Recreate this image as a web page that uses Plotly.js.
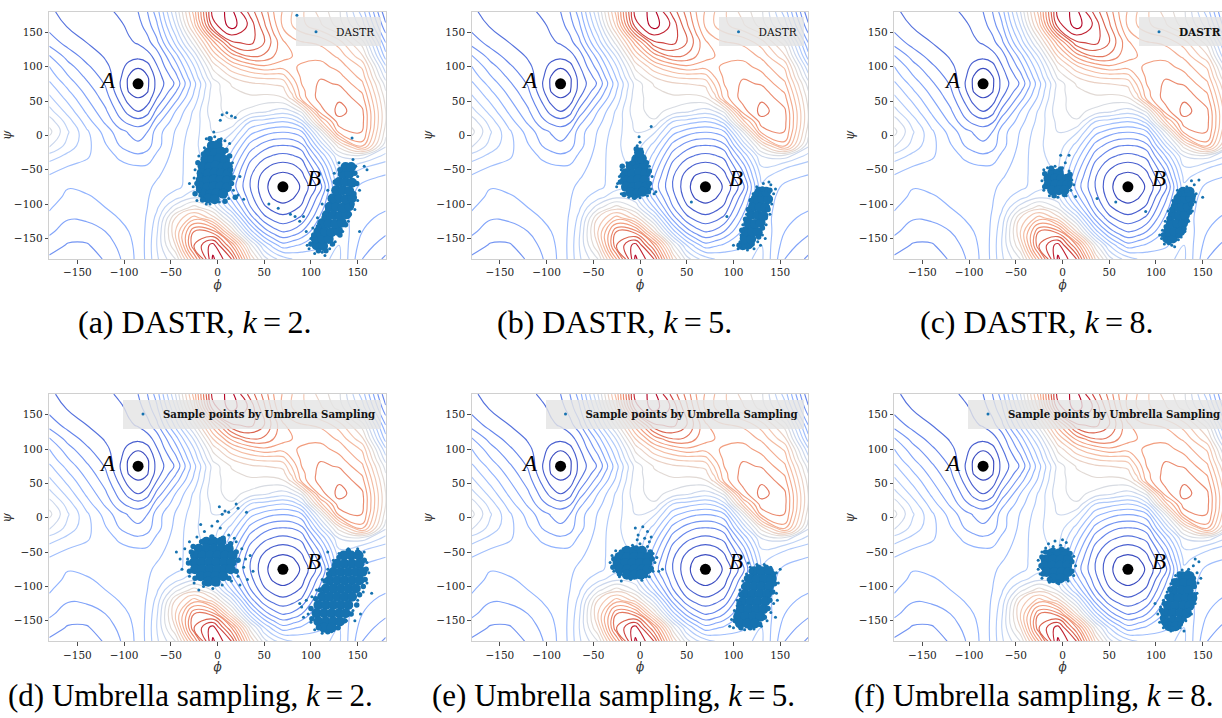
<!DOCTYPE html>
<html><head><meta charset="utf-8">
<script src="https://cdn.plot.ly/plotly-3.0.1.min.js"></script>
<style>html,body{margin:0;padding:0;overflow:hidden;background:#fff;width:1222px;height:718px}#plot{width:1240px;height:718px}</style>
</head><body><div id="plot"></div><script>
// ---- potential energy surface (phi, psi grid, estimated contour levels) ----
const phi = [-180,-160,-140,-120,-105,-95,-85,-75,-65,-45,-25,-5,15,35,50,60,70,80,90,110,130,155,180];
const psi = [-180,-160,-140,-120,-105,-90,-75,-60,-45,-30,-15,5,20,35,55,65,75,85,100,115,135,160,180];
const energy = [
 [4.8,4.4,4.5,5.1,5.9,6.6,7.3,8.3,9.8,12,18,24.2,22,15,11.5,10.3,9.5,9,8.8,8.8,9.2,6.0,4.8],
 [5.5,4.9,4.9,5.5,6.2,6.7,7.4,8.3,10.0,14,21,23.5,19,12.5,9,7.5,6.4,6.8,7.2,7.8,9.0,6.5,5.5],
 [6.2,5.5,5.5,6.0,6.6,7.0,7.5,8.2,9.8,15,20,19.5,14,8.5,5.6,4.5,3.9,4.2,5.0,7.2,8.8,7.0,6.2],
 [6.8,6.1,6.2,6.6,7.05,7.3,7.55,8.1,9.3,14,16.5,14.5,10.5,5.5,3.3,2.6,2.3,2.6,3.2,6.2,8.6,7.2,6.8],
 [7.1,6.5,6.6,7.0,7.3,7.45,7.55,8.0,8.8,11.6,13.5,11.8,8,4.1,2.2,1.6,1.3,1.6,2.2,5.4,8.6,7.4,7.1],
 [7.4,6.8,6.9,7.2,7.45,7.5,7.55,7.9,8.5,9.6,10.8,10.3,6.5,3.4,1.5,0.85,0.6,0.85,1.5,4.6,8.6,7.6,7.4],
 [7.6,7.05,7.2,7.45,7.5,7.5,7.5,7.8,8.2,8.7,9.6,9.9,5.6,3.0,1.25,0.6,0.3,0.6,1.1,3.6,8.8,7.8,7.6],
 [7.9,7.5,7.5,7.5,7.45,7.4,7.35,7.5,7.9,8.6,9.6,10.0,6.1,3.1,1.5,0.85,0.6,0.85,1.6,4.5,9.3,8.3,7.9],
 [8.5,8.0,7.8,7.6,7.3,7.15,7.05,7.1,7.6,8.5,9.7,10.2,6.8,3.6,2.3,1.75,1.55,1.75,2.35,5.5,10,9.2,8.5],
 [9.6,8.7,8.1,7.5,6.8,6.4,6.2,6.4,7.2,8.4,9.8,10.4,7.6,4.5,3.3,2.9,2.7,2.9,3.3,7.0,11,11.5,9.6],
 [11.2,9.6,8.3,7.1,6.0,5.5,5.2,5.6,6.6,8.3,9.8,10.7,8.6,5.6,4.5,4.05,3.95,4.05,4.6,9.0,13.5,17.5,11.2],
 [12.3,10.1,8.2,6.6,5.4,4.9,4.6,5.0,6.5,8.1,9.6,11.0,10.2,7.4,6.5,6.15,6.05,6.2,6.8,12,18.3,19.1,12.5],
 [11.6,9.5,7.5,5.8,4.3,3.7,3.4,3.8,5.6,7.6,9.4,11.3,11.9,9.0,8.5,8.2,8.0,8.3,9.5,15.5,19.6,19.3,13],
 [10.4,8.6,6.8,5.2,3.6,2.6,2.0,2.6,4.3,7.0,9.2,11.7,12.3,11.7,11.2,10.8,10.5,11,12.3,18.5,20.4,19.2,13],
 [9.2,7.6,6.0,4.5,2.7,1.4,0.95,1.3,2.9,5.5,8.3,11.6,12.5,12.8,12.6,12.7,13,14.5,17.5,19.5,19.8,18.3,12.5],
 [8.7,7.1,5.6,4.2,2.3,0.9,0.48,0.9,2.4,4.8,8.0,11.5,12.8,13.3,13.5,13.5,13.6,15.5,17.7,19.4,19.4,17.8,12],
 [8.2,6.6,5.2,3.9,2.1,0.8,0.3,0.8,2.3,4.15,7.7,11.4,13.1,13.8,14,14.1,14.3,16.2,18.0,19.2,18.9,17.2,11.5],
 [7.6,6.1,4.8,3.6,2.3,0.9,0.48,0.9,2.4,4.6,8.2,12.2,14.0,15,15.3,15.3,15.5,17,18.2,18.9,18.4,16.6,10.5],
 [7.0,5.4,4.2,3.2,2.5,1.6,1.1,1.6,2.9,5.5,9.0,13.3,15.8,17.2,17.8,17.6,17.4,17.8,18.2,18.4,17.6,15.8,9.2],
 [6.1,4.6,3.6,2.9,2.6,2.45,2.3,2.6,3.4,6.5,10.2,15,18.3,20,19.8,19,18.4,18,17.6,17.7,16.8,14.2,7.5],
 [4.6,3.6,3.0,2.7,2.65,2.85,3.1,3.6,4.7,8.3,12.5,17.5,21.8,22.3,21,19.6,18.2,17.4,17.1,16.8,15.5,12.5,6.0],
 [3.6,2.9,2.6,2.6,2.8,3.2,3.6,4.5,5.8,10,15.5,22.5,24.5,22.7,20.2,18.5,16.8,16,15.3,14.2,12.6,9.5,4.2],
 [3.2,2.6,2.5,2.7,3.2,3.6,4.0,5.0,6.5,11,16.5,23.5,24.3,21.6,19.6,18,16.9,16,15.2,13.6,12.2,8.5,3.2]
];
const tickVals = [-150,-100,-50,0,50,100,150];
const tickText = ['\u2212150','\u2212100','\u221250','0','50','100','150'];
const stateA = [-85, 75];
const stateB = [70, -75];
const captions = ['(a) DASTR, <i>k</i>\u2009=\u20092.','(b) DASTR, <i>k</i>\u2009=\u20095.','(c) DASTR, <i>k</i>\u2009=\u20098.',
  '(d) Umbrella sampling, <i>k</i>\u2009=\u20092.','(e) Umbrella sampling, <i>k</i>\u2009=\u20095.','(f) Umbrella sampling, <i>k</i>\u2009=\u20098.'];
const legendNames = ['DASTR','DASTR','<b>DASTR</b>','<b>Sample points by Umbrella Sampling</b>',
  '<b>Sample points by Umbrella Sampling</b>','<b>Sample points by Umbrella Sampling</b>'];

// ---- sample clouds (phi, psi): dense cores, cloud edges, sparse outliers ----
const aCore1 = [[-6,-15],[0,-14],[-10,-25],[-3,-26],[4,-24],[-13,-35],[-6,-36],[1,-34],[8,-36],[-16,-45],[-9,-46],[-2,-44],[5,-46],[11,-45],[-17,-55],[-10,-56],[-3,-54],[4,-55],[11,-56],[-18,-65],[-11,-66],[-4,-64],[3,-65],[10,-66],[-18,-75],[-11,-76],[-4,-74],[3,-75],[10,-76],[-15,-85],[-8,-86],[-1,-84],[6,-85],[-10,-92],[-3,-93]];
const aEdge1 = [[-21,-40],[-22,-70],[-20,-80],[14,-50],[15,-70],[13,-30],[-8,-5],[2,-8],[-16,-94],[8,-96],[-24,-85],[19,-90],[-19,-58],[16,-62],[9,-22],[-15,-27]];
const aSpray1 = [[-24,-50],[-26,-75],[-22,-95],[-12,-100],[2,-97],[12,-92],[17,-80],[18,-60],[16,-40],[10,-20],[4,-5],[-4,5],[-12,-5],[-20,-30],[-25,-62],[22,-87],[28,-93],[-30,-70],[5,30],[10,33],[15,28],[19,26],[3,22],[8,-8],[-14,-18],[24,-60],[13,-12],[-19,-88],[-3,-2],[-8,-100]];
const aCore2 = [[106,-160],[113,-161],[105,-150],[112,-150],[119,-151],[108,-140],[115,-140],[122,-141],[129,-139],[112,-128],[119,-128],[126,-129],[133,-127],[117,-116],[124,-116],[131,-117],[138,-115],[120,-104],[127,-104],[134,-105],[141,-103],[123,-92],[130,-92],[137,-93],[144,-91],[127,-80],[134,-80],[141,-81],[130,-68],[137,-68],[144,-69],[134,-56],[141,-56],[137,-46],[143,-46]];
const aEdge2 = [[100,-158],[103,-145],[108,-133],[114,-120],[118,-108],[124,-95],[126,-68],[131,-50],[147,-55],[149,-70],[146,-85],[144,-100],[141,-115],[137,-130],[131,-145],[123,-158],[116,-168],[108,-168]];
const aSpray2 = [[98,-165],[100,-150],[104,-172],[112,-170],[120,-165],[126,-155],[134,-140],[140,-125],[147,-108],[150,-95],[152,-80],[150,-60],[148,-45],[145,-35],[130,-40],[125,-55],[118,-80],[112,-100],[107,-120],[102,-135],[95,-140],[88,-125],[83,-118],[92,-118],[157,-45],[160,-50],[152,-140],[115,-175],[96,-160],[78,-115],[65,-106],[85,175],[144,-4],[55,-100]];
const bCore1 = [[-10,-45],[-3,-44],[4,-46],[-15,-55],[-8,-56],[-1,-54],[6,-55],[-16,-65],[-9,-66],[-2,-64],[5,-65],[-15,-75],[-8,-76],[-1,-74],[6,-75],[-10,-83],[-3,-84],[3,-82],[-4,-35],[2,-34],[-1,-25]];
const bEdge1 = [[-19,-45],[-21,-68],[-17,-86],[-6,-90],[10,-70],[10,-52],[7,-40],[-8,-40],[-4,-20],[-19,-58],[9,-82]];
const bSpray1 = [[-22,-60],[-24,-70],[-20,-85],[-12,-90],[0,-91],[8,-88],[12,-78],[13,-60],[10,-45],[5,-32],[-3,-15],[0,-10],[-6,-30],[-14,-40],[-20,-50],[17,-82],[-25,-75],[2,-20],[-1,-2],[12,13],[15,-85],[-18,-78]];
const bCore2 = [[110,-160],[116,-159],[112,-150],[119,-151],[113,-140],[120,-140],[126,-141],[116,-128],[123,-129],[129,-127],[119,-116],[126,-116],[132,-117],[121,-104],[128,-104],[134,-105],[124,-92],[131,-92],[137,-93],[128,-82],[135,-82]];
const bEdge2 = [[106,-160],[109,-138],[113,-122],[116,-108],[119,-95],[124,-85],[131,-78],[139,-80],[139,-92],[137,-108],[134,-120],[131,-135],[127,-148],[120,-158],[112,-162]];
const bSpray2 = [[105,-165],[107,-155],[108,-145],[110,-130],[114,-115],[118,-100],[121,-85],[125,-75],[132,-70],[140,-72],[143,-85],[141,-100],[139,-115],[135,-130],[131,-145],[126,-155],[122,-165],[115,-167],[134,-150],[145,-78],[138,-68],[93,-118],[55,-97],[100,-160],[129,-160]];
const cCore1 = [[-11,-55],[-4,-55],[-15,-63],[-8,-63],[-1,-63],[5,-63],[-15,-72],[-8,-72],[-1,-72],[5,-72],[-11,-80],[-4,-80],[2,-80]];
const cEdge1 = [[-19,-56],[-19,-75],[-9,-88],[2,-86],[8,-70],[8,-57],[-2,-49],[-12,-48]];
const cSpray1 = [[-20,-50],[-22,-66],[-20,-80],[-14,-88],[-5,-90],[4,-88],[9,-80],[10,-65],[7,-52],[0,-47],[-8,-45],[-16,-47],[-2,-29],[7,-29],[14,-89],[-18,-58],[3,-40],[-12,-85],[12,-72]];
const cCore2 = [[112,-150],[118,-150],[113,-140],[120,-140],[126,-140],[116,-128],[123,-128],[129,-128],[118,-116],[125,-116],[131,-116],[121,-104],[128,-104],[134,-104],[124,-92],[131,-92],[137,-92],[129,-82],[136,-82]];
const cEdge2 = [[108,-145],[111,-133],[114,-121],[117,-108],[120,-97],[125,-85],[133,-80],[140,-88],[138,-100],[136,-112],[133,-124],[130,-136],[124,-146],[114,-156]];
const cSpray2 = [[106,-150],[109,-158],[117,-160],[124,-152],[131,-140],[135,-125],[139,-110],[142,-97],[143,-85],[141,-72],[138,-66],[146,-65],[133,-75],[123,-80],[118,-95],[113,-110],[110,-125],[107,-138],[104,-145],[89,-111],[37,-92],[57,-97],[150,-90],[120,-162],[127,-148]];
const dCore1 = [[-12,-35],[-4,-35],[4,-35],[-20,-45],[-12,-45],[-4,-45],[4,-45],[12,-45],[-24,-55],[-16,-55],[-8,-55],[0,-55],[8,-55],[16,-55],[-25,-65],[-17,-65],[-9,-65],[-1,-65],[7,-65],[15,-65],[-24,-75],[-16,-75],[-8,-75],[0,-75],[8,-75],[14,-75],[-18,-85],[-10,-85],[-2,-85],[6,-85],[-10,-93],[-2,-93]];
const dEdge1 = [[-28,-50],[-31,-66],[-30,-78],[-24,-88],[-14,-95],[0,-96],[12,-88],[20,-78],[22,-62],[20,-50],[14,-38],[6,-30],[-6,-28],[-17,-35],[-26,-42]];
const dSpray1 = [[-35,-45],[-40,-60],[-38,-75],[-30,-85],[-25,-95],[-15,-100],[-5,-103],[5,-98],[15,-92],[22,-85],[28,-72],[30,-60],[26,-45],[20,-35],[12,-25],[3,-15],[-6,-12],[-14,-20],[-22,-28],[-30,-35],[-44,-50],[35,-55],[38,-78],[32,-90],[-18,-10],[0,-5],[18,-30],[-32,-60],[24,-98],[-20,-105],[2,16],[8,10],[12,8],[20,20],[22,14],[31,8],[5,5]];
const dCore2 = [[135,-55],[143,-55],[151,-55],[128,-67],[136,-67],[144,-67],[152,-67],[124,-79],[132,-79],[140,-79],[148,-79],[155,-79],[120,-91],[128,-91],[136,-91],[144,-91],[152,-91],[116,-103],[124,-103],[132,-103],[140,-103],[148,-103],[112,-115],[120,-115],[128,-115],[136,-115],[144,-115],[108,-127],[116,-127],[124,-127],[132,-127],[140,-127],[106,-139],[114,-139],[122,-139],[130,-139],[137,-139],[108,-151],[116,-151],[124,-151],[131,-151],[114,-160],[122,-160]];
const dEdge2 = [[140,-48],[150,-50],[157,-62],[159,-75],[158,-90],[156,-100],[152,-112],[149,-127],[143,-140],[136,-150],[129,-160],[118,-166],[108,-160],[101,-147],[100,-132],[105,-118],[110,-105],[115,-92],[119,-82],[125,-70],[130,-58]];
const dSpray2 = [[95,-120],[90,-130],[97,-140],[100,-152],[104,-163],[112,-168],[122,-166],[130,-160],[138,-150],[145,-135],[150,-120],[156,-108],[160,-95],[162,-80],[160,-65],[157,-50],[150,-45],[140,-45],[130,-52],[124,-62],[118,-75],[112,-90],[106,-105],[101,-115],[88,-125],[92,-145],[147,-150],[165,-110],[118,-50],[153,-140]];
const eCore1 = [[-14,-48],[-6,-48],[2,-48],[-22,-57],[-14,-57],[-6,-57],[2,-57],[9,-57],[-24,-66],[-16,-66],[-8,-66],[0,-66],[8,-66],[-22,-75],[-14,-75],[-6,-75],[2,-75],[8,-75],[-14,-83],[-6,-83],[1,-83]];
const eEdge1 = [[-28,-60],[-29,-72],[-22,-82],[-10,-87],[6,-84],[12,-74],[13,-60],[11,-50],[-4,-44],[-20,-50]];
const eSpray1 = [[-30,-55],[-32,-65],[-28,-78],[-22,-86],[-10,-90],[2,-91],[10,-86],[14,-78],[16,-65],[14,-52],[8,-42],[0,-38],[-8,-40],[-18,-45],[-26,-48],[5,-30],[-2,-25],[8,-20],[10,-35],[-5,-15],[3,-13],[18,-58],[-3,-32],[12,-28],[20,-78],[24,-75],[-20,-92]];
const eCore2 = [[122,-78],[130,-78],[138,-78],[117,-89],[125,-89],[133,-89],[141,-89],[114,-100],[122,-100],[130,-100],[138,-100],[112,-111],[120,-111],[128,-111],[136,-111],[110,-122],[118,-122],[126,-122],[134,-122],[108,-133],[116,-133],[124,-133],[132,-133],[105,-144],[113,-144],[121,-144],[129,-144],[107,-154],[115,-154],[123,-154]];
const eEdge2 = [[102,-150],[104,-138],[106,-125],[108,-112],[111,-100],[114,-88],[119,-78],[127,-72],[135,-72],[143,-82],[144,-96],[142,-108],[139,-120],[137,-132],[133,-145],[128,-155],[118,-160],[108,-160]];
const eSpray2 = [[100,-160],[98,-148],[101,-135],[104,-120],[107,-105],[110,-92],[114,-82],[118,-72],[125,-68],[133,-68],[140,-72],[146,-80],[148,-95],[146,-110],[143,-125],[140,-138],[136,-150],[130,-158],[122,-162],[112,-163],[150,-75],[96,-158],[145,-145],[116,-66],[104,-128],[147,-120]];
const fCore1 = [[-12,-52],[-4,-52],[3,-52],[-18,-61],[-10,-61],[-2,-61],[6,-61],[-19,-70],[-11,-70],[-3,-70],[5,-70],[-17,-79],[-9,-79],[-1,-79],[6,-79],[-10,-88],[-2,-88]];
const fEdge1 = [[-22,-57],[-23,-70],[-21,-82],[-14,-90],[-5,-93],[4,-88],[10,-78],[10,-64],[8,-52],[-1,-46],[-10,-47],[-18,-50]];
const fSpray1 = [[-22,-50],[-26,-62],[-26,-75],[-22,-88],[-14,-94],[-4,-96],[6,-92],[12,-84],[14,-70],[12,-56],[6,-45],[-2,-40],[-10,-42],[-18,-44],[-8,-34],[0,-32],[4,-36],[-24,-82],[10,-62],[-15,-38]];
const fCore2 = [[128,-85],[136,-85],[122,-95],[130,-95],[138,-95],[119,-106],[127,-106],[135,-106],[116,-117],[124,-117],[132,-117],[139,-117],[113,-128],[121,-128],[129,-128],[136,-128],[110,-139],[118,-139],[126,-139],[133,-139],[110,-150],[118,-150],[125,-150],[114,-158],[121,-158]];
const fEdge2 = [[106,-135],[107,-146],[110,-156],[118,-162],[126,-155],[130,-147],[135,-135],[139,-124],[141,-112],[141,-100],[140,-88],[134,-80],[125,-82],[119,-92],[115,-104],[112,-115],[109,-125]];
const fSpray2 = [[102,-140],[104,-152],[108,-160],[116,-165],[126,-160],[132,-150],[138,-140],[142,-125],[144,-110],[145,-95],[144,-80],[140,-70],[142,-60],[146,-64],[135,-75],[128,-76],[121,-84],[116,-96],[112,-108],[108,-120],[105,-130],[99,-125],[148,-88],[130,-165]];

const panelCores = [[aCore1,aCore2],[bCore1,bCore2],[cCore1,cCore2],[dCore1,dCore2],[eCore1,eCore2],[fCore1,fCore2]];
const panelEdges = [[aEdge1,aEdge2],[bEdge1,bEdge2],[cEdge1,cEdge2],[dEdge1,dEdge2],[eEdge1,eEdge2],[fEdge1,fEdge2]];
const panelSprays = [[aSpray1,aSpray2],[bSpray1,bSpray2],[cSpray1,cSpray2],[dSpray1,dSpray2],[eSpray1,eSpray2],[fSpray1,fSpray2]];

// ---- layout geometry (pixels) ----
const W = 1240, H = 718;
const colLeft = [49.3, 471.8, 894.3], axW = 336.4;
const rowTop = [11.7, 394.1], axH = 247.3;
const capX = [[194, 614, 1036],[190, 613, 1034]];
const capY = [322, 695];
const capSize = [32, 31];

const coolwarm = [[0,'#3b4cc0'],[0.125,'#6282ea'],[0.25,'#8db0fe'],[0.375,'#b9d0f9'],[0.5,'#dddddd'],
  [0.625,'#f5c4ac'],[0.75,'#f29a7b'],[0.875,'#d9604c'],[1,'#b40426']];
const dotColor = '#1672b0';
const serif = 'DejaVu Serif';

const traces = [];
const layout = {width: W, height: H, margin:{l:0,r:0,t:0,b:0}, paper_bgcolor:'#fff', plot_bgcolor:'#fff',
  showlegend:true, annotations:[]};

function pts(list, k) { return list.map(p => p[k]); }

for (let i = 0; i < 6; i++) {
  const n = i + 1, s = n === 1 ? '' : String(n);
  const col = i % 3, row = Math.floor(i / 3);
  const xa = 'x' + s, ya = 'y' + s, lg = 'legend' + s;
  const x0 = colLeft[col] / W, x1 = (colLeft[col] + axW) / W;
  const y1 = 1 - rowTop[row] / H, y0 = 1 - (rowTop[row] + axH) / H;
  const axCommon = {range:[-180,180], tickvals: tickVals, ticktext: tickText, ticks:'outside', ticklen:3.5,
    tickwidth:0.8, tickcolor:'#222', showline:true, linecolor:'#d0d0d0', linewidth:1, mirror:true,
    showgrid:false, zeroline:false, fixedrange:true,
    tickfont:{family: serif, size:10.5, color:'#222'}};
  layout['xaxis' + s] = Object.assign({}, axCommon, {domain:[x0,x1], anchor: ya,
    title:{text:'<i>\u03d5</i>', font:{family: serif, size:12, color:'#333'}, standoff:0}});
  layout['yaxis' + s] = Object.assign({}, axCommon, {domain:[y0,y1], anchor: xa,
    title:{text:'<i>\u03c8</i>', font:{family: serif, size:12, color:'#333'}, standoff:1}});

  const cores = panelCores[i].flat(), edges = panelEdges[i].flat(), sprays = panelSprays[i].flat();
  traces.push({type:'scatter', mode:'markers', x: pts(cores,0), y: pts(cores,1),
    xaxis: xa, yaxis: ya, marker:{size:10, color: dotColor}, showlegend:false, hoverinfo:'skip'});
  traces.push({type:'scatter', mode:'markers', x: pts(edges,0), y: pts(edges,1),
    xaxis: xa, yaxis: ya, marker:{size:5.5, color: dotColor}, showlegend:false, hoverinfo:'skip'});
  traces.push({type:'scatter', mode:'markers', x: pts(sprays,0), y: pts(sprays,1),
    xaxis: xa, yaxis: ya, marker:{size:3, color: dotColor}, name: legendNames[i], legend: lg,
    showlegend:true, hoverinfo:'skip'});
  traces.push({type:'contour', x: phi, y: psi, z: energy, xaxis: xa, yaxis: ya,
    colorscale: coolwarm, showscale:false, autocontour:false,
    contours:{coloring:'lines', start:1, end:24, size:1},
    line:{width:1.15, smoothing:1.3}, hoverinfo:'skip', showlegend:false});
  traces.push({type:'scatter', mode:'markers', x:[stateA[0], stateB[0]], y:[stateA[1], stateB[1]],
    xaxis: xa, yaxis: ya, marker:{size:11, color:'#000'}, showlegend:false, hoverinfo:'skip'});

  layout[lg] = {x: (colLeft[col] + axW - 4.7) / W, xanchor:'right', y: 1 - (rowTop[row] + 5.5) / H, yanchor:'top',
    bgcolor:'rgba(228,228,228,0.82)', borderwidth:0,
    font:{family: serif, size: row === 0 ? 10.5 : 10.2, color:'#111'},
    itemwidth:30, itemsizing:'trace'};

  layout.annotations.push({xref: xa, yref: ya, x: stateA[0], y: stateA[1], xshift:-31, yshift:3,
    text:'<i>A</i>', showarrow:false, font:{family:'Liberation Serif', size:23, color:'#000'}});
  layout.annotations.push({xref: xa, yref: ya, x: stateB[0], y: stateB[1], xshift:31, yshift:8,
    text:'<i>B</i>', showarrow:false, font:{family:'Liberation Serif', size:23, color:'#000'}});
  layout.annotations.push({xref:'paper', yref:'paper', x: capX[row][col] / W, y: 1 - capY[row] / H,
    xanchor:'center', yanchor:'middle', text: captions[i], showarrow:false,
    font:{family:'Liberation Serif', size: capSize[row], color:'#000'}});
}

Plotly.newPlot('plot', traces, layout, {displayModeBar:false, staticPlot:true});
</script></body></html>
